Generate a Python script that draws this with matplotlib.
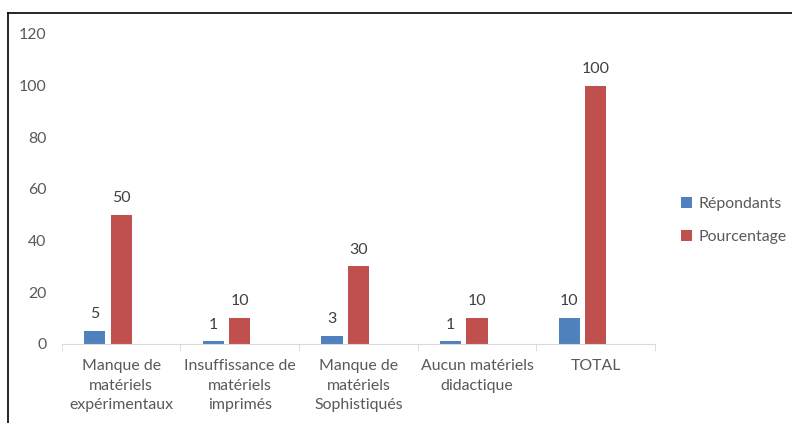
import matplotlib.pyplot as plt
import numpy as np
from matplotlib.lines import Line2D

categories = ['Manque de\nmatériels\nexpérimentaux', 'Insuffissance de\nmatériels\nimprimés',
              'Manque de\nmatériels\nSophistiqués', 'Aucun matériels\ndidactique', 'TOTAL']
repondants = [5, 1, 3, 1, 10]
pourcentage = [50, 10, 30, 10, 100]

plt.rcParams['font.family'] = ['Lato', 'DejaVu Sans']

fig = plt.figure(figsize=(7.92, 4.23), dpi=100)
ax = fig.add_axes([0.078, 0.187, 0.749, 0.733])

x = np.arange(len(categories))
w = 0.178
# slots laid out for three series; the third slot stays empty
b1 = ax.bar(x - 0.222, repondants, w, color='#4F81BD', label='Répondants')
b2 = ax.bar(x, pourcentage, w, color='#C0504D', label='Pourcentage')

for bars in (b1, b2):
    for bar in bars:
        ax.annotate(f'{bar.get_height():g}', (bar.get_x() + bar.get_width() / 2, bar.get_height()),
                    xytext=(0, 7), textcoords='offset points', ha='center', va='bottom',
                    fontsize=11.5, color='#404040')

ax.set_xlim(-0.5, len(categories) - 0.5)
ax.set_ylim(0, 120)
ax.set_yticks(range(0, 121, 20))
ax.set_xticks(x)
ax.set_xticklabels(categories, fontsize=11.4, color='#595959', linespacing=1.5)
ax.set_xticks(np.arange(-0.5, len(categories)), minor=True)
ax.tick_params(axis='x', which='major', length=0, pad=11)
ax.tick_params(axis='x', which='minor', length=5, color='#D9D9D9')
ax.tick_params(axis='y', length=0, labelsize=11.4, labelcolor='#595959', pad=11)

for s in ('top', 'right', 'left'):
    ax.spines[s].set_visible(False)
ax.spines['bottom'].set_color('#D9D9D9')

ax.legend(loc='center left', bbox_to_anchor=(1.02, 0.397), frameon=False, fontsize=11.4,
          labelcolor='#595959', handlelength=0.7, handleheight=0.7, handletextpad=0.4,
          labelspacing=1.2)

# outer frame
fig.add_artist(Line2D([0.0101, 1.0], [0.969, 0.969], color='black', lw=1.2))
fig.add_artist(Line2D([0.0101, 0.0101], [0.969, 0.0], color='black', lw=1.2))

fig.savefig('out.png', dpi=100)
